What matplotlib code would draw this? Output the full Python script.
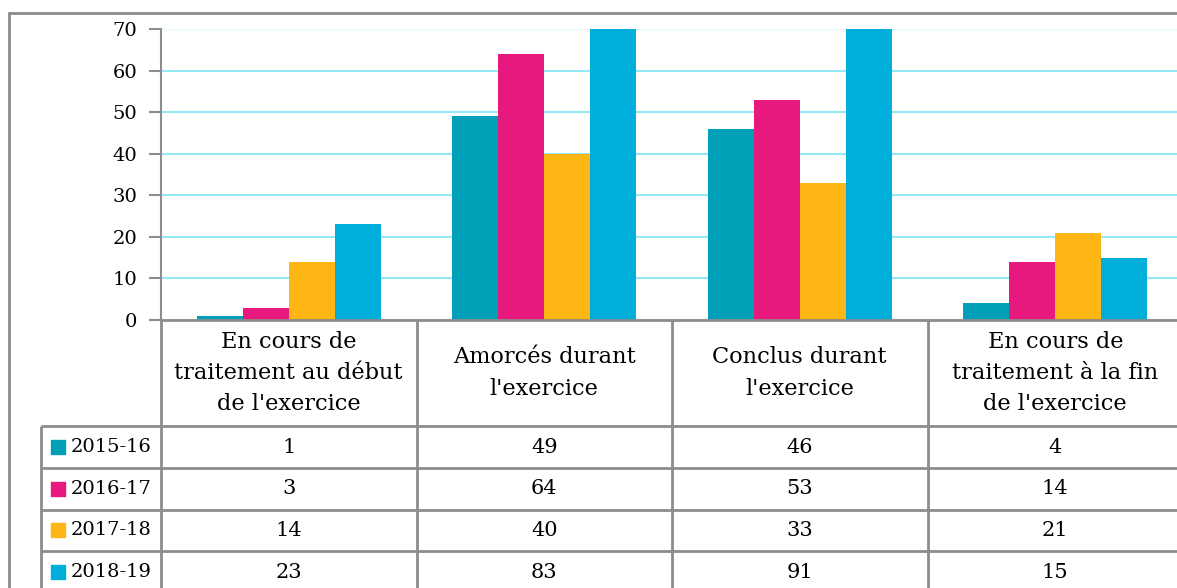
import numpy as np
import matplotlib.pyplot as plt
from matplotlib.patches import Rectangle

# données du graphique
categories = ["En cours de\ntraitement au début\nde l'exercice",
              "Amorcés durant\nl'exercice",
              "Conclus durant\nl'exercice",
              "En cours de\ntraitement à la fin\nde l'exercice"]
years = ['2015-16', '2016-17', '2017-18', '2018-19']
v_2015_16 = [1, 49, 46, 4]
v_2016_17 = [3, 64, 53, 14]
v_2017_18 = [14, 40, 33, 21]
v_2018_19 = [23, 83, 91, 15]
series = [v_2015_16, v_2016_17, v_2017_18, v_2018_19]
colors = ['#00A0B8', '#E8197E', '#FDB614', '#00AEDC']
yticks = [0, 10, 20, 30, 40, 50, 60, 70]

W, H = 1177, 588
plt.rcParams['font.family'] = ['DejaVu Serif']
fig = plt.figure(figsize=(W / 100, H / 100), dpi=100)
grey = '#8c8c8c'


def px(x0, y0, x1, y1):
    # boite en pixels -> fraction de figure
    return [x0 / W, 1 - y1 / H, (x1 - x0) / W, (y1 - y0) / H]


# cadre extérieur
fig.add_artist(Rectangle((9 / W, -0.1), 2, 1 - 13 / H + 0.1, transform=fig.transFigure,
                         fill=False, ec='#8a8a8a', lw=2))

# histogramme
ax = fig.add_axes(px(161, 29, 1183, 320))
x = np.arange(len(categories))
bw = 0.18
for i, (vals, c) in enumerate(zip(series, colors)):
    ax.bar(x + (i - 1.5) * bw, vals, bw, color=c, zorder=3)
ax.set_xlim(-0.5, 3.5)
ax.set_ylim(0, 70)
ax.set_yticks(yticks)
ax.set_xticks([])
for s in ['top', 'right', 'bottom']:
    ax.spines[s].set_visible(False)
ax.spines['left'].set_color(grey)
ax.spines['left'].set_linewidth(1.5)
ax.tick_params(axis='y', length=9, width=1.5, color=grey, pad=8, labelsize=14)
ax.yaxis.grid(True, color='#94e9f7', lw=1.5, zorder=0)
ax.get_ygridlines()[-1].set_alpha(0.25)

# tableau de données
ax_t = fig.add_axes(px(41, 320, 1183, 593))
col_px = (1183 - 161) / 4
x_left = -0.5 - (161 - 41) / col_px
hdr = 106 / 41.6
n = len(years)
ax_t.set_xlim(x_left, 3.5)
ax_t.set_ylim(hdr + n, 0)
ax_t.axis('off')

ax_t.hlines(0, -0.5, 3.5, color=grey, lw=2, clip_on=False)
ax_t.hlines(hdr + np.arange(n + 1), x_left, 3.5, color=grey, lw=2, clip_on=False)
ax_t.vlines(np.arange(len(categories) + 1) - 0.5, 0, hdr + n, color=grey, lw=2, clip_on=False)
ax_t.vlines(x_left, hdr, hdr + n, color=grey, lw=2, clip_on=False)

for i, cat in enumerate(categories):
    ax_t.text(i, hdr / 2, cat, ha='center', va='center', fontsize=16.2, linespacing=1.55)

for r, (yr, vals, c) in enumerate(zip(years, series, colors)):
    yc = hdr + r + 0.5
    ax_t.scatter([x_left + 16.5 / col_px], [yc], marker='s', s=110, color=c, clip_on=False)
    ax_t.text(x_left + 30 / col_px, yc, yr, ha='left', va='center', fontsize=14)
    for i, v in enumerate(vals):
        ax_t.text(i, yc, str(v), ha='center', va='center', fontsize=15)

fig.savefig('out.png', dpi=100)
